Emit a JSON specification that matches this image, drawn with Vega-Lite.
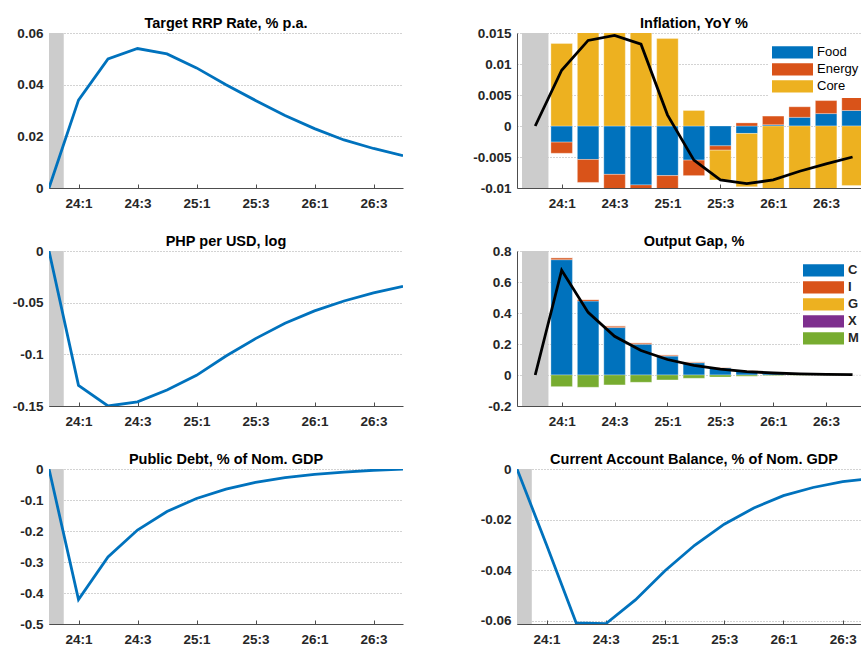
{
  "$schema": "https://vega.github.io/schema/vega-lite/v6.json",
  "autosize": {"type": "pad"},
  "padding": {"left": 12, "top": 15, "right": 0, "bottom": 0},
  "background": "white",
  "bounds": "flush",
  "columns": 2,
  "spacing": {"row": 63, "column": 114},
  "resolve": {"scale": {"color": "independent", "x": "independent", "y": "independent"}, "legend": {"color": "independent"}, "axis": {"x": "independent", "y": "independent"}},
  "datasets": {
    "shade": [{"start": -0.5, "end": 0.5}],
    "rrp": [
      {"t": 0, "v": 0}, {"t": 1, "v": 0.034}, {"t": 2, "v": 0.050}, {"t": 3, "v": 0.054},
      {"t": 4, "v": 0.0519}, {"t": 5, "v": 0.0465}, {"t": 6, "v": 0.040}, {"t": 7, "v": 0.0339},
      {"t": 8, "v": 0.0281}, {"t": 9, "v": 0.0230}, {"t": 10, "v": 0.0186}, {"t": 11, "v": 0.0153}, {"t": 12, "v": 0.0125}
    ],
    "php": [
      {"t": 0, "v": 0}, {"t": 1, "v": -0.130}, {"t": 2, "v": -0.150}, {"t": 3, "v": -0.146},
      {"t": 4, "v": -0.1345}, {"t": 5, "v": -0.1203}, {"t": 6, "v": -0.1016}, {"t": 7, "v": -0.0848},
      {"t": 8, "v": -0.070}, {"t": 9, "v": -0.058}, {"t": 10, "v": -0.0484}, {"t": 11, "v": -0.0406}, {"t": 12, "v": -0.0342}
    ],
    "debt": [
      {"t": 0, "v": 0}, {"t": 1, "v": -0.421}, {"t": 2, "v": -0.284}, {"t": 3, "v": -0.197},
      {"t": 4, "v": -0.137}, {"t": 5, "v": -0.095}, {"t": 6, "v": -0.065}, {"t": 7, "v": -0.043},
      {"t": 8, "v": -0.028}, {"t": 9, "v": -0.017}, {"t": 10, "v": -0.010}, {"t": 11, "v": -0.004}, {"t": 12, "v": -0.0005}
    ],
    "ca": [
      {"t": 0, "v": 0}, {"t": 1, "v": -0.030}, {"t": 2, "v": -0.0608}, {"t": 3, "v": -0.0611},
      {"t": 4, "v": -0.0517}, {"t": 5, "v": -0.0402}, {"t": 6, "v": -0.0301}, {"t": 7, "v": -0.0218},
      {"t": 8, "v": -0.0154}, {"t": 9, "v": -0.0105}, {"t": 10, "v": -0.0073}, {"t": 11, "v": -0.0050}, {"t": 12, "v": -0.0037}
    ],
    "infl": [
      {"t": 1, "comp": "Food", "k": 1, "v": -0.0026}, {"t": 1, "comp": "Energy", "k": 2, "v": -0.0018}, {"t": 1, "comp": "Core", "k": 3, "v": 0.0133},
      {"t": 2, "comp": "Food", "k": 1, "v": -0.0054}, {"t": 2, "comp": "Energy", "k": 2, "v": -0.0037}, {"t": 2, "comp": "Core", "k": 3, "v": 0.0229},
      {"t": 3, "comp": "Food", "k": 1, "v": -0.0078}, {"t": 3, "comp": "Energy", "k": 2, "v": -0.0030}, {"t": 3, "comp": "Core", "k": 3, "v": 0.0254},
      {"t": 4, "comp": "Food", "k": 1, "v": -0.0095}, {"t": 4, "comp": "Energy", "k": 2, "v": -0.0030}, {"t": 4, "comp": "Core", "k": 3, "v": 0.0257},
      {"t": 5, "comp": "Food", "k": 1, "v": -0.0080}, {"t": 5, "comp": "Energy", "k": 2, "v": -0.0043}, {"t": 5, "comp": "Core", "k": 3, "v": 0.0141},
      {"t": 6, "comp": "Food", "k": 1, "v": -0.0055}, {"t": 6, "comp": "Energy", "k": 2, "v": -0.0025}, {"t": 6, "comp": "Core", "k": 3, "v": 0.0025},
      {"t": 7, "comp": "Food", "k": 1, "v": -0.0032}, {"t": 7, "comp": "Energy", "k": 2, "v": -0.0007}, {"t": 7, "comp": "Core", "k": 3, "v": -0.0048},
      {"t": 8, "comp": "Food", "k": 1, "v": -0.0012}, {"t": 8, "comp": "Energy", "k": 2, "v": 0.0005}, {"t": 8, "comp": "Core", "k": 3, "v": -0.0086},
      {"t": 9, "comp": "Food", "k": 1, "v": 0.0002}, {"t": 9, "comp": "Energy", "k": 2, "v": 0.0014}, {"t": 9, "comp": "Core", "k": 3, "v": -0.0103},
      {"t": 10, "comp": "Food", "k": 1, "v": 0.0014}, {"t": 10, "comp": "Energy", "k": 2, "v": 0.0017}, {"t": 10, "comp": "Core", "k": 3, "v": -0.0104},
      {"t": 11, "comp": "Food", "k": 1, "v": 0.0020}, {"t": 11, "comp": "Energy", "k": 2, "v": 0.0021}, {"t": 11, "comp": "Core", "k": 3, "v": -0.0102},
      {"t": 12, "comp": "Food", "k": 1, "v": 0.0025}, {"t": 12, "comp": "Energy", "k": 2, "v": 0.0021}, {"t": 12, "comp": "Core", "k": 3, "v": -0.0096}
    ],
    "inflTotal": [
      {"t": 0, "v": 0}, {"t": 1, "v": 0.0090}, {"t": 2, "v": 0.0138}, {"t": 3, "v": 0.0146},
      {"t": 4, "v": 0.0132}, {"t": 5, "v": 0.0018}, {"t": 6, "v": -0.0055}, {"t": 7, "v": -0.0087},
      {"t": 8, "v": -0.0093}, {"t": 9, "v": -0.0087}, {"t": 10, "v": -0.0073}, {"t": 11, "v": -0.0061}, {"t": 12, "v": -0.0050}
    ],
    "gap": [
      {"t": 1, "comp": "C", "k": 1, "v": 0.744}, {"t": 1, "comp": "I", "k": 2, "v": 0.013}, {"t": 1, "comp": "G", "k": 3, "v": 0}, {"t": 1, "comp": "X", "k": 4, "v": 0}, {"t": 1, "comp": "M", "k": 5, "v": -0.075},
      {"t": 2, "comp": "C", "k": 1, "v": 0.477}, {"t": 2, "comp": "I", "k": 2, "v": 0.011}, {"t": 2, "comp": "G", "k": 3, "v": 0}, {"t": 2, "comp": "X", "k": 4, "v": 0}, {"t": 2, "comp": "M", "k": 5, "v": -0.079},
      {"t": 3, "comp": "C", "k": 1, "v": 0.306}, {"t": 3, "comp": "I", "k": 2, "v": 0.011}, {"t": 3, "comp": "G", "k": 3, "v": 0}, {"t": 3, "comp": "X", "k": 4, "v": 0}, {"t": 3, "comp": "M", "k": 5, "v": -0.064},
      {"t": 4, "comp": "C", "k": 1, "v": 0.199}, {"t": 4, "comp": "I", "k": 2, "v": 0.009}, {"t": 4, "comp": "G", "k": 3, "v": 0}, {"t": 4, "comp": "X", "k": 4, "v": 0}, {"t": 4, "comp": "M", "k": 5, "v": -0.047},
      {"t": 5, "comp": "C", "k": 1, "v": 0.122}, {"t": 5, "comp": "I", "k": 2, "v": 0.008}, {"t": 5, "comp": "G", "k": 3, "v": 0}, {"t": 5, "comp": "X", "k": 4, "v": 0}, {"t": 5, "comp": "M", "k": 5, "v": -0.032},
      {"t": 6, "comp": "C", "k": 1, "v": 0.079}, {"t": 6, "comp": "I", "k": 2, "v": 0.006}, {"t": 6, "comp": "G", "k": 3, "v": 0}, {"t": 6, "comp": "X", "k": 4, "v": 0}, {"t": 6, "comp": "M", "k": 5, "v": -0.021},
      {"t": 7, "comp": "C", "k": 1, "v": 0.045}, {"t": 7, "comp": "I", "k": 2, "v": 0.005}, {"t": 7, "comp": "G", "k": 3, "v": 0}, {"t": 7, "comp": "X", "k": 4, "v": 0}, {"t": 7, "comp": "M", "k": 5, "v": -0.013},
      {"t": 8, "comp": "C", "k": 1, "v": 0.025}, {"t": 8, "comp": "I", "k": 2, "v": 0.005}, {"t": 8, "comp": "G", "k": 3, "v": 0}, {"t": 8, "comp": "X", "k": 4, "v": 0}, {"t": 8, "comp": "M", "k": 5, "v": -0.008},
      {"t": 9, "comp": "C", "k": 1, "v": 0.013}, {"t": 9, "comp": "I", "k": 2, "v": 0.004}, {"t": 9, "comp": "G", "k": 3, "v": 0}, {"t": 9, "comp": "X", "k": 4, "v": 0}, {"t": 9, "comp": "M", "k": 5, "v": -0.004},
      {"t": 10, "comp": "C", "k": 1, "v": 0.006}, {"t": 10, "comp": "I", "k": 2, "v": 0.003}, {"t": 10, "comp": "G", "k": 3, "v": 0}, {"t": 10, "comp": "X", "k": 4, "v": 0}, {"t": 10, "comp": "M", "k": 5, "v": -0.002},
      {"t": 11, "comp": "C", "k": 1, "v": 0.003}, {"t": 11, "comp": "I", "k": 2, "v": 0.002}, {"t": 11, "comp": "G", "k": 3, "v": 0}, {"t": 11, "comp": "X", "k": 4, "v": 0}, {"t": 11, "comp": "M", "k": 5, "v": -0.001},
      {"t": 12, "comp": "C", "k": 1, "v": 0.001}, {"t": 12, "comp": "I", "k": 2, "v": 0.001}, {"t": 12, "comp": "G", "k": 3, "v": 0}, {"t": 12, "comp": "X", "k": 4, "v": 0}, {"t": 12, "comp": "M", "k": 5, "v": 0}
    ],
    "gapTotal": [
      {"t": 0, "v": 0}, {"t": 1, "v": 0.676}, {"t": 2, "v": 0.404}, {"t": 3, "v": 0.250},
      {"t": 4, "v": 0.158}, {"t": 5, "v": 0.100}, {"t": 6, "v": 0.062}, {"t": 7, "v": 0.038},
      {"t": 8, "v": 0.022}, {"t": 9, "v": 0.013}, {"t": 10, "v": 0.007}, {"t": 11, "v": 0.004}, {"t": 12, "v": 0.002}
    ]
  },
  "concat": [
    {
      "width": 354, "height": 155,
      "title": {"text": "Target RRP Rate, % p.a."},
      "layer": [
        {"data": {"name": "shade"}, "mark": {"type": "rect", "color": "#cccccc", "clip": true},
         "encoding": {"x": {"field": "start", "type": "quantitative", "scale": {"domain": [0, 12], "nice": false, "zero": false},
           "axis": {"values": [1, 3, 5, 7, 9, 11], "labelExpr": "(23 + floor((datum.value + 3) / 4)) + ':' + ((datum.value + 3) % 4 + 1)"}},
           "x2": {"field": "end"}}},
        {"data": {"name": "rrp"}, "mark": {"type": "line", "color": "#0072BD", "strokeWidth": 2.8, "clip": true},
         "encoding": {"x": {"field": "t", "type": "quantitative"},
           "y": {"field": "v", "type": "quantitative", "scale": {"domain": [0, 0.06], "nice": false, "zero": false},
             "axis": {"values": [0, 0.02, 0.04, 0.06], "labelExpr": "toString(datum.value)", "labelOverlap": false}}}}
      ]
    },
    {
      "width": 344, "height": 155,
      "title": {"text": "Inflation, YoY %", "dx": 5},
      "layer": [
        {"data": {"name": "shade"}, "mark": {"type": "rect", "color": "#cccccc", "clip": true},
         "encoding": {"x": {"field": "start", "type": "quantitative", "scale": {"domain": [-0.5, 12.13], "nice": false, "zero": false},
           "axis": {"values": [1, 3, 5, 7, 9, 11], "labelExpr": "(23 + floor((datum.value + 3) / 4)) + ':' + ((datum.value + 3) % 4 + 1)"}},
           "x2": {"field": "end"}}},
        {"data": {"name": "infl"}, "mark": {"type": "bar", "size": 21.5, "clip": true, "stroke": "#ffffff", "strokeWidth": 0.6, "strokeOpacity": 0.5},
         "encoding": {"x": {"field": "t", "type": "quantitative"},
           "y": {"field": "v", "type": "quantitative", "stack": "zero", "scale": {"domain": [-0.01, 0.015], "nice": false, "zero": false},
             "axis": {"values": [-0.01, -0.005, 0, 0.005, 0.01, 0.015], "labelExpr": "toString(datum.value)", "labelOverlap": false}},
           "color": {"field": "comp", "type": "nominal",
             "scale": {"domain": ["Food", "Energy", "Core"], "range": ["#0072BD", "#D95319", "#EDB120"]},
             "legend": {"orient": "none", "legendX": 252, "legendY": 8, "labelFontWeight": "normal", "labelColor": "#000000", "labelFontSize": 13}},
           "order": {"field": "k", "type": "quantitative"}}},
        {"mark": {"type": "rule", "color": "#666666", "strokeWidth": 1},
         "encoding": {"y": {"datum": 0, "type": "quantitative", "axis": {"values": [-0.01, -0.005, 0, 0.005, 0.01, 0.015], "labelExpr": "toString(datum.value)", "labelOverlap": false}}}},
        {"data": {"name": "inflTotal"}, "mark": {"type": "line", "color": "#000000", "strokeWidth": 2.8, "clip": true},
         "encoding": {"x": {"field": "t", "type": "quantitative"}, "y": {"field": "v", "type": "quantitative", "axis": {"values": [-0.01, -0.005, 0, 0.005, 0.01, 0.015], "labelExpr": "toString(datum.value)", "labelOverlap": false}}}}
      ]
    },
    {
      "width": 354, "height": 155,
      "title": {"text": "PHP per USD, log"},
      "layer": [
        {"data": {"name": "shade"}, "mark": {"type": "rect", "color": "#cccccc", "clip": true},
         "encoding": {"x": {"field": "start", "type": "quantitative", "scale": {"domain": [0, 12], "nice": false, "zero": false},
           "axis": {"values": [1, 3, 5, 7, 9, 11], "labelExpr": "(23 + floor((datum.value + 3) / 4)) + ':' + ((datum.value + 3) % 4 + 1)"}},
           "x2": {"field": "end"}}},
        {"data": {"name": "php"}, "mark": {"type": "line", "color": "#0072BD", "strokeWidth": 2.8, "clip": true},
         "encoding": {"x": {"field": "t", "type": "quantitative"},
           "y": {"field": "v", "type": "quantitative", "scale": {"domain": [-0.15, 0], "nice": false, "zero": false},
             "axis": {"values": [-0.15, -0.1, -0.05, 0], "labelExpr": "toString(datum.value)", "labelOverlap": false}}}}
      ]
    },
    {
      "width": 344, "height": 155,
      "title": {"text": "Output Gap, %", "dx": 5},
      "layer": [
        {"data": {"name": "shade"}, "mark": {"type": "rect", "color": "#cccccc", "clip": true},
         "encoding": {"x": {"field": "start", "type": "quantitative", "scale": {"domain": [-0.5, 12.13], "nice": false, "zero": false},
           "axis": {"values": [1, 3, 5, 7, 9, 11], "labelExpr": "(23 + floor((datum.value + 3) / 4)) + ':' + ((datum.value + 3) % 4 + 1)"}},
           "x2": {"field": "end"}}},
        {"data": {"name": "gap"}, "mark": {"type": "bar", "size": 21.5, "clip": true, "stroke": "#ffffff", "strokeWidth": 0.6, "strokeOpacity": 0.5},
         "encoding": {"x": {"field": "t", "type": "quantitative"},
           "y": {"field": "v", "type": "quantitative", "stack": "zero", "scale": {"domain": [-0.2, 0.8], "nice": false, "zero": false},
             "axis": {"values": [-0.2, 0, 0.2, 0.4, 0.6, 0.8], "labelExpr": "toString(datum.value)", "labelOverlap": false}},
           "color": {"field": "comp", "type": "nominal",
             "scale": {"domain": ["C", "I", "G", "X", "M"], "range": ["#0072BD", "#D95319", "#EDB120", "#7E2F8E", "#77AC30"]},
             "legend": {"orient": "none", "legendX": 283, "legendY": 8, "labelFontWeight": "bold", "labelColor": "#262626", "labelFontSize": 13}},
           "order": {"field": "k", "type": "quantitative"}}},
        {"mark": {"type": "rule", "color": "#666666", "strokeWidth": 1},
         "encoding": {"y": {"datum": 0, "type": "quantitative", "axis": {"values": [-0.2, 0, 0.2, 0.4, 0.6, 0.8], "labelExpr": "toString(datum.value)", "labelOverlap": false}}}},
        {"data": {"name": "gapTotal"}, "mark": {"type": "line", "color": "#000000", "strokeWidth": 2.8, "clip": true},
         "encoding": {"x": {"field": "t", "type": "quantitative"}, "y": {"field": "v", "type": "quantitative", "axis": {"values": [-0.2, 0, 0.2, 0.4, 0.6, 0.8], "labelExpr": "toString(datum.value)", "labelOverlap": false}}}}
      ]
    },
    {
      "width": 354, "height": 155,
      "title": {"text": "Public Debt, % of Nom. GDP"},
      "layer": [
        {"data": {"name": "shade"}, "mark": {"type": "rect", "color": "#cccccc", "clip": true},
         "encoding": {"x": {"field": "start", "type": "quantitative", "scale": {"domain": [0, 12], "nice": false, "zero": false},
           "axis": {"values": [1, 3, 5, 7, 9, 11], "labelExpr": "(23 + floor((datum.value + 3) / 4)) + ':' + ((datum.value + 3) % 4 + 1)"}},
           "x2": {"field": "end"}}},
        {"data": {"name": "debt"}, "mark": {"type": "line", "color": "#0072BD", "strokeWidth": 2.8, "clip": true},
         "encoding": {"x": {"field": "t", "type": "quantitative"},
           "y": {"field": "v", "type": "quantitative", "scale": {"domain": [-0.5, 0], "nice": false, "zero": false},
             "axis": {"values": [-0.5, -0.4, -0.3, -0.2, -0.1, 0], "labelExpr": "toString(datum.value)", "labelOverlap": false}}}}
      ]
    },
    {
      "width": 344, "height": 155,
      "title": {"text": "Current Account Balance, % of Nom. GDP", "dx": 5},
      "layer": [
        {"data": {"name": "shade"}, "mark": {"type": "rect", "color": "#cccccc", "clip": true},
         "encoding": {"x": {"field": "start", "type": "quantitative", "scale": {"domain": [0, 11.62], "nice": false, "zero": false},
           "axis": {"values": [1, 3, 5, 7, 9, 11], "labelExpr": "(23 + floor((datum.value + 3) / 4)) + ':' + ((datum.value + 3) % 4 + 1)"}},
           "x2": {"field": "end"}}},
        {"mark": {"type": "rule", "color": "#666666", "strokeWidth": 1},
         "encoding": {"y": {"datum": 0, "type": "quantitative", "axis": {"values": [-0.06, -0.04, -0.02, 0], "labelExpr": "toString(datum.value)", "labelOverlap": false}}}},
        {"data": {"name": "ca"}, "mark": {"type": "line", "color": "#0072BD", "strokeWidth": 2.8, "clip": true},
         "encoding": {"x": {"field": "t", "type": "quantitative"},
           "y": {"field": "v", "type": "quantitative", "scale": {"domain": [-0.0612, 0], "nice": false, "zero": false},
             "axis": {"values": [-0.06, -0.04, -0.02, 0], "labelExpr": "toString(datum.value)", "labelOverlap": false}}}}
      ]
    }
  ],
  "config": {
    "font": "Liberation Sans",
    "view": {"stroke": null},
    "axis": {
      "title": null,
      "labelFont": "Liberation Sans",
      "labelFontSize": 13.5,
      "labelFontWeight": "bold",
      "labelColor": "#262626",
      "domainColor": "#4d4d4d",
      "domainWidth": 1,
      "tickColor": "#4d4d4d",
      "gridColor": "#a6a6a6",
      "gridDash": [1, 2],
      "gridWidth": 1,
      "labelFlush": false,
      "labelOverlap": false
    },
    "axisX": {"grid": false, "ticks": true, "tickSize": -4, "tickWidth": 1, "labelPadding": 12, "labelBaseline": "top"},
    "axisY": {"grid": true, "ticks": false, "labelPadding": 6},
    "title": {"font": "Liberation Sans", "fontSize": 14.5, "fontWeight": "bold", "color": "#000000", "anchor": "middle", "frame": "group", "baseline": "alphabetic", "offset": -5},
    "legend": {
      "title": null,
      "symbolType": "M-1,-0.3H1V0.3H-1Z",
      "symbolSize": 1681,
      "symbolStrokeWidth": 0,
      "symbolOpacity": 1,
      "labelFont": "Liberation Sans",
      "labelOffset": 4,
      "padding": 3,
      "fillColor": "white",
      "clipHeight": 16.7,
      "rowPadding": 0
    }
  }
}
